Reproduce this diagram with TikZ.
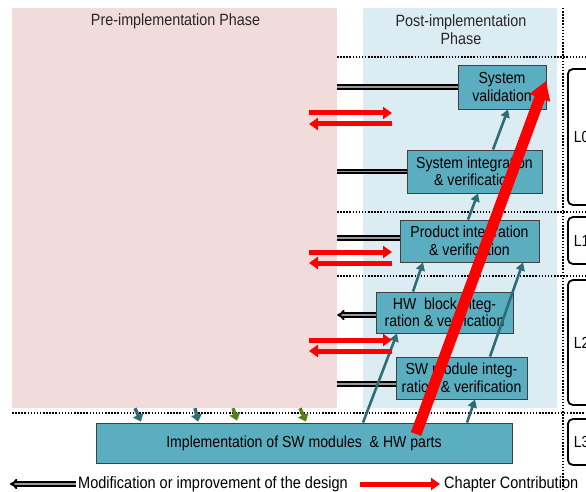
\documentclass[tikz,border=0pt]{standalone}
\usepackage{fontspec}
\setmainfont{Liberation Sans}[FakeStretch=0.88]
\usetikzlibrary{arrows.meta}
\definecolor{prepink}{RGB}{241,219,219}
\definecolor{postblue}{RGB}{219,236,242}
\definecolor{boxteal}{RGB}{91,174,192}
\definecolor{arrteal}{RGB}{47,108,122}
\definecolor{arrgreen}{RGB}{84,130,18}
\begin{document}
\begin{tikzpicture}[x=1pt,y=-1pt,
  panel/.style={inner sep=0pt,minimum height=400pt},
  title/.style={inner sep=0pt,align=center,text=black!85,font=\fontsize{16.3}{18}\selectfont},
  stage/.style={draw=black!75,line width=0.9pt,fill=boxteal,inner sep=0pt,align=center,font=\fontsize{16}{17.5}\selectfont},
  level/.style={draw=black,line width=1.8pt,rounded corners=5pt,anchor=west,minimum width=40pt,text width=28pt,inner xsep=6pt,align=left,font=\fontsize{16}{17.5}\selectfont},
  sep/.style={line width=1.6pt,dash pattern=on 1.5pt off 1.6pt},
  flow/.style={arrteal,line width=2.6pt,-{Triangle[length=8pt,width=9pt]}},
  drop/.style={line width=3.4pt,-{Triangle[length=7pt,width=11pt]}},
  modarr/.style={line width=2pt,double=black!40,double distance=1.2pt},
  feed/.style={red,line width=5pt},
  contrib/.style={red,line width=11pt,-{Triangle[length=18pt,width=21pt]}},
  legend/.style={inner sep=0pt,anchor=west,font=\fontsize{16.5}{18}\selectfont}]
  \useasboundingbox (0,0) rectangle (586,492);
  \clip (0,0) rectangle (586,492);
  \node[panel,fill=prepink,minimum width=325pt] (pre) at (174.5,208) {};
  \node[panel,fill=postblue,minimum width=194pt] (post) at (460,208) {};
  \node[title] (pretitle) at (175.5,21) {Pre-implementation Phase};
  \node[title] (posttitle) at (461,29.5) {Post-implementation\\Phase};
  \draw[sep] (337,57) -- (586,57);
  \draw[sep] (337,212) -- (586,212);
  \draw[sep] (337,276) -- (586,276);
  \draw[sep] (12,413) -- (586,413);
  \draw[sep] (563,8) -- (563,492);
  \node[level,minimum height=136pt] (l0) at (567,137) {L0};
  \node[level,minimum height=47pt] (l1) at (567,240.5) {L1};
  \node[level,minimum height=125pt] (l2) at (567,342.5) {L2};
  \node[level,minimum height=46pt] (l3) at (567,442) {L3};
  \node[stage,minimum width=88pt,minimum height=44pt] (sysval) at (502,87) {System\\validation};
  \node[stage,minimum width=135pt,minimum height=43pt] (sysint) at (474.5,171.5) {System integration\\\& verification};
  \node[stage,minimum width=139pt,minimum height=42pt] (prod) at (469.5,241) {Product integration\\\& verification};
  \node[stage,minimum width=137pt,minimum height=41pt] (hw) at (444.5,312.5) {HW~ block integ-\\ration \& verification};
  \node[stage,minimum width=131pt,minimum height=42pt] (sw) at (461.5,378) {SW module integ-\\ration \& verification};
  \node[stage,minimum width=416pt,minimum height=40pt] (impl) at (304,443) {Implementation of SW modules~ \& HW parts};
  \coordinate (m1) at (sysval.west);
  \coordinate (m2) at (sysint.west);
  \coordinate (m3) at ([yshift=3pt]prod.west);
  \coordinate (m4) at ([yshift=-2.5pt]hw.west);
  \coordinate (m5) at ([yshift=-6pt]sw.west);
  \foreach \m in {m1,m2,m3,m5}
    \draw[modarr] (\m) -- (\m -| pre.east);
  \draw[modarr,-Implies] (m4) -- (m4 -| pre.east);
  \draw[flow] ([xshift=18.5pt]sysint.north) -- ([xshift=6pt]sysval.south);
  \draw[flow] ([xshift=-1.5pt]prod.north) -- ([xshift=3.5pt]sysint.south);
  \draw[flow] ([xshift=-31.5pt]hw.north) -- ([xshift=-46.5pt]prod.south);
  \draw[flow] ([xshift=28.5pt]sw.north) -- ([xshift=53.5pt]prod.south);
  \draw[flow] ([xshift=59pt]impl.north) -- ([xshift=-47.5pt]hw.south);
  \draw[flow] ([xshift=163pt]impl.north) -- ([xshift=13.5pt]sw.south);
  \draw[drop,arrteal] ([xshift=-39.5pt]pre.south) -- ([xshift=-163pt,yshift=1pt]impl.north);
  \draw[drop,arrteal] ([xshift=20.5pt]pre.south) -- ([xshift=-106pt,yshift=1pt]impl.north);
  \draw[drop,arrgreen] ([xshift=58.5pt]pre.south) -- ([xshift=-67pt,yshift=2pt]impl.north);
  \draw[drop,arrgreen] ([xshift=125.5pt]pre.south) -- ([xshift=2pt,yshift=1pt]impl.north);
  \foreach \y [count=\n] in {113,252,340} {
    \coordinate (pl\n) at (309,\y);
    \coordinate (pr\n) at (392,\y);
    \draw[feed,-{Triangle[length=9pt,width=12pt]}] (pl\n) -- (pr\n);
    \draw[feed,{Triangle[length=9pt,width=12pt]}-] ([yshift=-11pt]pl\n) -- ([yshift=-11pt]pr\n);
  }
  \draw[contrib] ([xshift=112pt,yshift=9pt]impl.center) -- ([xshift=44pt,yshift=6pt]sysval.center);
  \coordinate (lg1) at (76,484);
  \coordinate (lg2) at (10,484);
  \draw[modarr,-Implies] (lg1) -- (lg2);
  \node[legend] (legmod) at (78,484) {Modification or improvement of the design};
  \coordinate (lg3) at (360,484);
  \coordinate (lg4) at (440,484);
  \draw[feed,-{Triangle[length=9pt,width=12pt]}] (lg3) -- (lg4);
  \node[legend] (legcon) at (444,484) {Chapter Contribution};
\end{tikzpicture}
\end{document}
